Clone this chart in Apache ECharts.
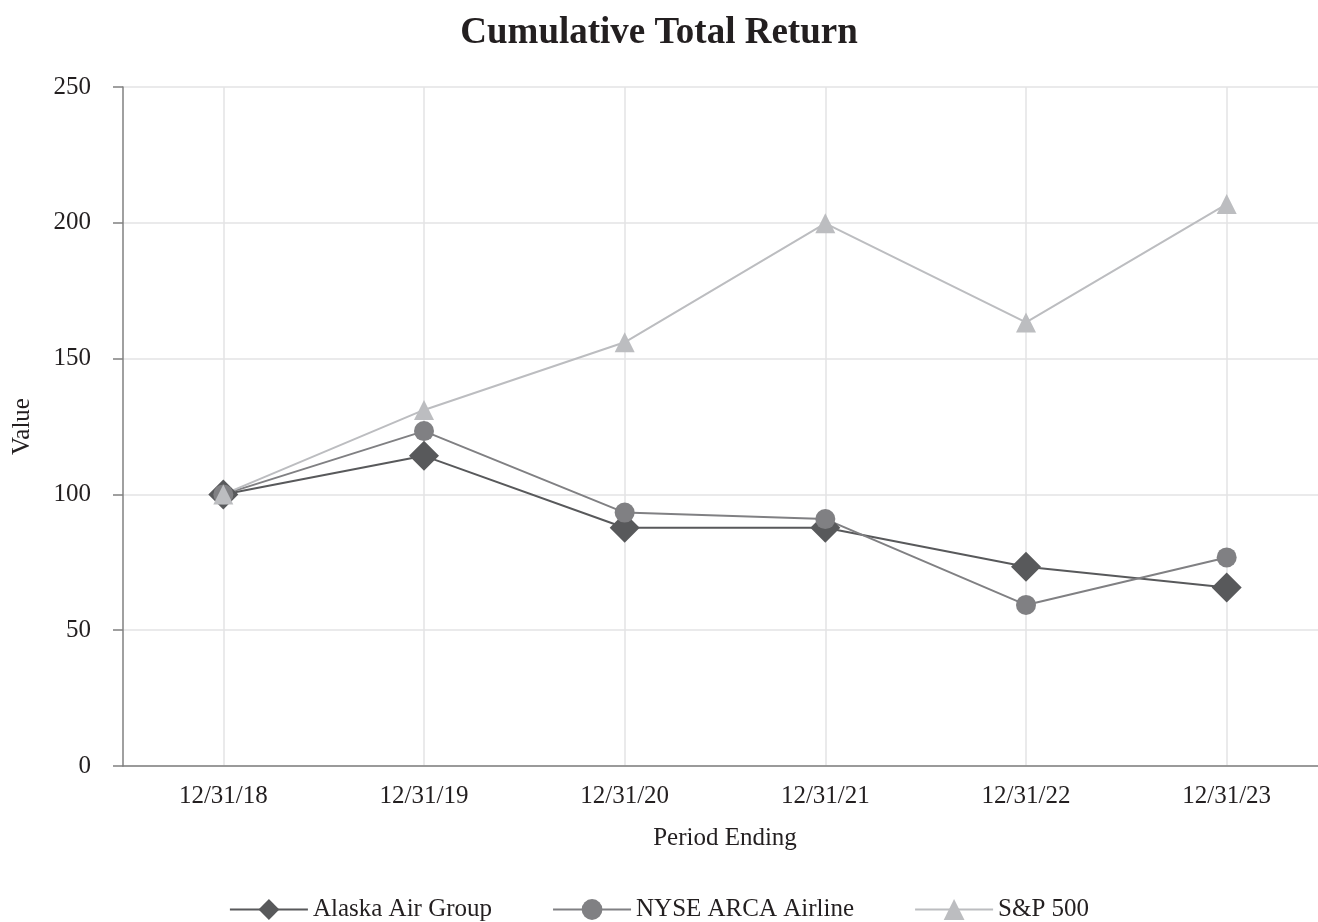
<!DOCTYPE html>
<html>
<head>
<meta charset="UTF-8">
<title>Cumulative Total Return</title>
<script src="https://cdn.jsdelivr.net/npm/echarts@6/dist/echarts.min.js"></script>
<style>
  body { margin:0; background:#fff; }
  #chart { width:1318px; height:922px; }
</style>
</head>
<body>
<div id="chart"></div>
<script>
// categories and series values
var periods = ['12/31/18', '12/31/19', '12/31/20', '12/31/21', '12/31/22', '12/31/23'];
var alaskaAir = [100, 114.2, 87.7, 87.7, 73.4, 65.7];
var nyseArcaAirline = [100, 123.3, 93.3, 90.9, 59.3, 76.8];
var sp500 = [100, 131.1, 156, 199.8, 163.3, 206.9];

var FONT = '"Liberation Serif", "Times New Roman", serif';
var TEXT_COLOR = '#231f20';

var chart = echarts.init(document.getElementById('chart'));
chart.setOption({
  animation: false,
  textStyle: { fontFamily: FONT },
  title: {
    text: 'Cumulative Total Return',
    left: 'center',
    top: 10,
    textStyle: { fontFamily: FONT, fontSize: 37, fontWeight: 'bold', color: TEXT_COLOR }
  },
  legend: {
    bottom: 0,
    left: 'center',
    padding: 0,
    itemWidth: 78,
    itemHeight: 26,
    itemGap: 60,
    textStyle: { fontFamily: FONT, fontSize: 25, color: TEXT_COLOR },
    data: ['Alaska Air Group', 'NYSE ARCA Airline', 'S&P 500']
  },
  // plot runs a little past the right edge of the page, as in the reference
  grid: { left: 123, width: 1204, top: 87, bottom: 156, outerBoundsMode: 'none' },
  xAxis: {
    type: 'category',
    data: periods,
    boundaryGap: true,
    name: 'Period Ending',
    nameLocation: 'middle',
    nameGap: 60,
    nameTextStyle: { fontFamily: FONT, fontSize: 25, color: TEXT_COLOR },
    axisLine: { lineStyle: { color: '#808080', width: 1.5 } },
    axisTick: { alignWithLabel: true, length: 10, lineStyle: { color: '#808080', width: 1.5 } },
    axisLabel: { margin: 18, fontFamily: FONT, fontSize: 25, color: TEXT_COLOR },
    splitLine: { show: true, alignWithLabel: true, lineStyle: { color: '#e3e3e5', width: 1.5 } }
  },
  yAxis: {
    type: 'value',
    min: 0,
    max: 250,
    interval: 50,
    name: 'Value',
    nameLocation: 'middle',
    nameGap: 88,
    nameTextStyle: { fontFamily: FONT, fontSize: 25, color: TEXT_COLOR },
    axisLine: { show: true, lineStyle: { color: '#808080', width: 1.5 } },
    axisTick: { show: true, length: 10, lineStyle: { color: '#808080', width: 1.5 } },
    axisLabel: { margin: 32, fontFamily: FONT, fontSize: 25, color: TEXT_COLOR },
    splitLine: { show: true, lineStyle: { color: '#e3e3e5', width: 1.5 } }
  },
  series: [
    {
      name: 'Alaska Air Group',
      type: 'line',
      data: alaskaAir,
      symbol: 'diamond',
      symbolSize: 30,
      color: '#58595b',
      lineStyle: { width: 2, color: '#58595b' },
      itemStyle: { color: '#58595b' }
    },
    {
      name: 'NYSE ARCA Airline',
      type: 'line',
      data: nyseArcaAirline,
      symbol: 'circle',
      symbolSize: 20,
      color: '#808083',
      lineStyle: { width: 2, color: '#808083' },
      itemStyle: { color: '#808083' }
    },
    {
      name: 'S&P 500',
      type: 'line',
      data: sp500,
      symbol: 'triangle',
      symbolSize: 20,
      color: '#bcbdc0',
      lineStyle: { width: 2, color: '#bcbdc0' },
      itemStyle: { color: '#bcbdc0' }
    }
  ]
});
</script>
</body>
</html>
